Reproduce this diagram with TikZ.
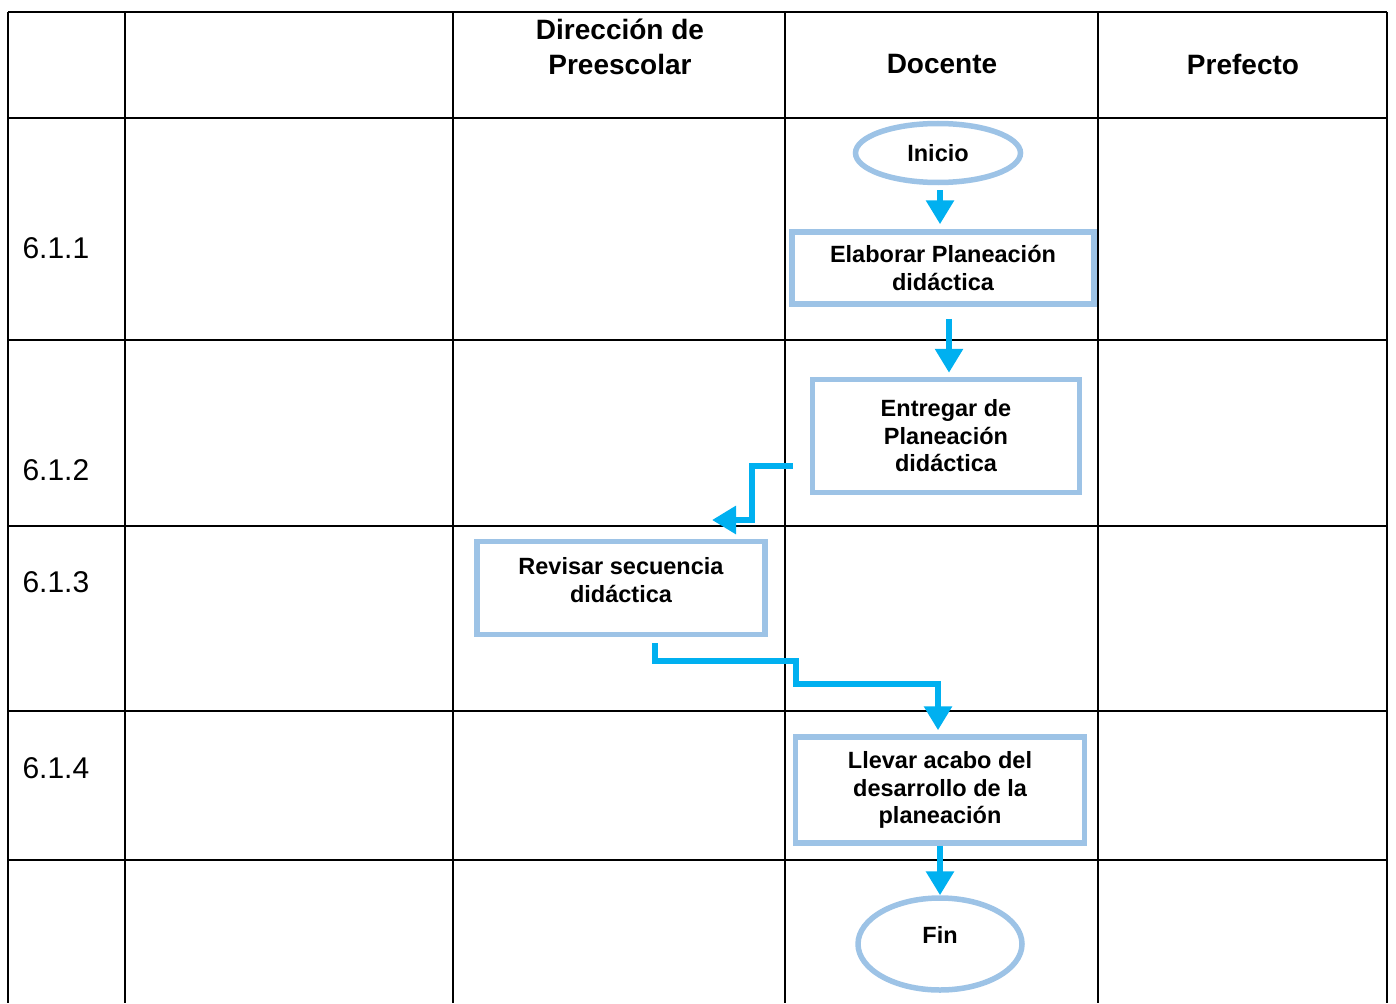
\documentclass[tikz,border=0pt]{standalone}
\usepackage{fontspec}
\setmainfont{Liberation Sans}
\usetikzlibrary{arrows.meta,shapes.geometric}
\definecolor{cajaazul}{RGB}{157,195,230}
\definecolor{flecha}{RGB}{0,176,240}
\tikzset{
  caja/.style={draw=cajaazul, line width=5.5pt, fill=white, align=center, inner sep=0pt,
    font=\fontsize{23.5}{27.5}\selectfont\bfseries},
  term/.style={ellipse, draw=cajaazul, line width=5.5pt, fill=white, align=center, inner sep=0pt,
    font=\fontsize{23.5}{27.5}\selectfont\bfseries},
  flujo/.style={draw=flecha, line width=6pt, -{Triangle[width=27pt,length=24pt]}},
  titulo/.style={font=\fontsize{28}{35}\selectfont\bfseries, align=center},
  paso/.style={font=\fontsize{30}{36}\selectfont, anchor=west},
}
\begin{document}
\begin{tikzpicture}[x=1pt,y=-1pt]
  \useasboundingbox (0,0) rectangle (1396,1003);
  % tabla
  \foreach \y in {12,118,340,526,711,860}
    \draw[line width=1.5pt] (8,\y) -- (1387,\y);
  \foreach \x in {8,125,453,785,1098,1387}
    \draw[line width=1.5pt] (\x,12) -- (\x,1003);
  % encabezados
  \node[titulo] (dir) at (620,47) {Dirección de\\Preescolar};
  \node[titulo] (doc) at (942,64) {Docente};
  \node[titulo] (pre) at (1243,64) {Prefecto};
  % pasos
  \node[paso] (p1) at (19,248) {6.1.1};
  \node[paso] (p2) at (19,470) {6.1.2};
  \node[paso] (p3) at (19,582) {6.1.3};
  \node[paso] (p4) at (19,768) {6.1.4};
  % diagrama
  \node[term, minimum width=165pt, minimum height=59pt] (inicio) at (938,153) {Inicio};
  \node[caja, minimum width=302pt, minimum height=72pt] (elaborar) at (943,268) {Elaborar Planeación\\didáctica};
  \node[caja, minimum width=267pt, minimum height=113pt] (entregar) at (946,436) {Entregar de\\Planeación\\didáctica};
  \node[caja, minimum width=288pt, minimum height=93pt] (revisar) at (621,588) {Revisar secuencia\\didáctica\\[-11.5pt]};
  \node[caja, minimum width=289pt, minimum height=106pt] (llevar) at (940,790) {Llevar acabo del\\desarrollo de la\\planeación};
  \node[term, minimum width=164pt, minimum height=92pt] (fin) at (940,944) {Fin\\[-9.5pt]};
  \coordinate (e3) at (712,520);
  % conectores
  \draw[flujo, shorten <=5pt, shorten >=5pt] ([xshift=2pt]inicio.south) -- ([xshift=-3pt]elaborar.north);
  \draw[flujo, shorten <=12pt, shorten >=4pt] ([xshift=6pt]elaborar.south) -- ([xshift=3pt]entregar.north);
  \draw[flujo] ([xshift=-17pt,yshift=-30pt]entregar.west) -- (752,466) -- (752,520) -- (e3);
  \draw[flujo] ([xshift=34pt,yshift=-6pt]revisar.south) -- (655,661) -- (796,661) -- (796,684) -| ([xshift=-2pt,yshift=4pt]llevar.north);
  \draw[flujo] (llevar.south) -- (fin.north);
\end{tikzpicture}
\end{document}
